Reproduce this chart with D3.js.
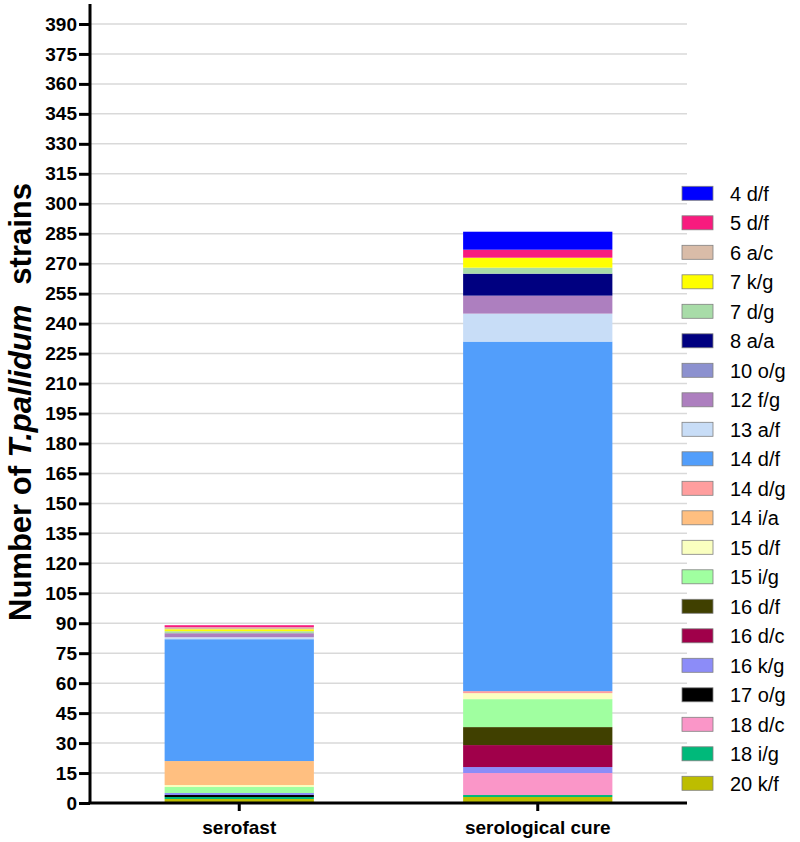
<!DOCTYPE html>
<html>
<head>
<meta charset="utf-8">
<script src="https://cdn.jsdelivr.net/npm/d3@7"></script>
<style>
  html, body { margin: 0; padding: 0; background: #fff; }
  svg { display: block; font-family: "Liberation Sans", Arial, sans-serif; }
</style>
</head>
<body>
<svg id="chart" width="800" height="842"></svg>
<script>
// ---- data ----
const categories = ["serofast", "serological cure"];
const legendKeys = ["4 d/f","5 d/f","6 a/c","7 k/g","7 d/g","8 a/a","10 o/g","12 f/g","13 a/f","14 d/f","14 d/g","14 i/a","15 d/f","15 i/g","16 d/f","16 d/c","16 k/g","17 o/g","18 d/c","18 i/g","20 k/f"];
const colors = ["#0000FF","#F81B7E","#D9BCA8","#FFFF00","#A8DCA8","#000080","#8C91CF","#AD7FBF","#C8DDF7","#529EFB","#FF9E9E","#FFBF80","#FAFFC0","#A0FFA0","#404000","#A0004A","#8C8CF8","#000000","#FA96C8","#00B97A","#BDBD00"];
// values per key (legend order)
const serofastValues = [0,1,1,1,1,0,0,2,1,61,0,12,1,3,0,0,1,1,0,1,2];
const cureValues     = [9,4,0,5,3,11,0,9,14,175,1,0,3,14,9,11,3,0,11,1,3];
const yTicks = d3.range(0, 391, 15);

// ---- layout ----
const svg = d3.select("#chart");
const x0 = 90, x1 = 687, yBottom = 803, yTop = 4;

const x = d3.scaleBand().domain(categories).range([x0, x1]).paddingInner(0.5).paddingOuter(0.25);
const y = d3.scaleLinear().domain([0, 400]).range([yBottom, yTop]);
const color = d3.scaleOrdinal().domain(legendKeys).range(colors);

// table for stack
const table = categories.map((c, i) => {
  const row = { category: c };
  legendKeys.forEach((k, j) => { row[k] = (i === 0 ? serofastValues : cureValues)[j]; });
  return row;
});
const stackKeys = legendKeys.slice().reverse(); // bottom to top
const series = d3.stack().keys(stackKeys)(table);

// gridlines
svg.append("g").selectAll("line").data(yTicks.filter(d => d > 0)).join("line")
  .attr("x1", x0).attr("x2", x1)
  .attr("y1", d => y(d)).attr("y2", d => y(d))
  .attr("stroke", "#d9d9d9").attr("stroke-width", 1.5);

// bars
svg.append("g").selectAll("g").data(series).join("g")
  .attr("fill", d => color(d.key))
  .selectAll("rect").data(d => d).join("rect")
  .attr("x", d => x(d.data.category))
  .attr("width", x.bandwidth())
  .attr("y", d => y(d[1]))
  .attr("height", d => y(d[0]) - y(d[1]));

// y axis
const yAxis = svg.append("g").attr("transform", `translate(${x0},0)`)
  .call(d3.axisLeft(y).tickValues(yTicks).tickSize(11).tickPadding(2));
yAxis.select(".domain").attr("d", `M0,${yTop}V${yBottom}`).attr("stroke", "#000").attr("stroke-width", 3);
yAxis.selectAll(".tick line").attr("stroke", "#000").attr("stroke-width", 3);
yAxis.selectAll(".tick text").attr("font-size", 19).attr("font-weight", "bold").attr("fill", "#000")
  .attr("font-family", "'Liberation Sans', Arial, sans-serif");

// x axis
const xAxis = svg.append("g").attr("transform", `translate(0,${yBottom})`)
  .call(d3.axisBottom(x).tickSize(8).tickPadding(10).tickSizeOuter(0));
xAxis.select(".domain").attr("d", `M${x0 - 1.5},0H${x1}`).attr("stroke", "#000").attr("stroke-width", 3);
xAxis.selectAll(".tick line").attr("stroke", "#000").attr("stroke-width", 3);
xAxis.selectAll(".tick text").attr("font-size", 19).attr("font-weight", "bold").attr("fill", "#000")
  .attr("font-family", "'Liberation Sans', Arial, sans-serif");

// y title
const title = svg.append("text")
  .attr("transform", "translate(31,402) rotate(-90)")
  .attr("text-anchor", "middle")
  .attr("font-size", 31).attr("font-weight", "bold").attr("fill", "#000");
title.append("tspan").text("Number of ");
title.append("tspan").attr("font-style", "italic").text("T.pallidum");
title.append("tspan").attr("dx", 20).text("strains");

// legend
const legend = svg.append("g").selectAll("g").data(legendKeys).join("g")
  .attr("transform", (d, i) => `translate(682,${193.3 + i * 29.5})`);
legend.append("rect").attr("x", 0).attr("y", -7).attr("width", 31).attr("height", 14)
  .attr("fill", d => color(d)).attr("stroke", "#808080").attr("stroke-width", 0.8);
legend.append("text").attr("x", 48).attr("y", 0).attr("dy", "0.36em")
  .attr("font-size", 20).attr("fill", "#000").text(d => d);
</script>
</body>
</html>
